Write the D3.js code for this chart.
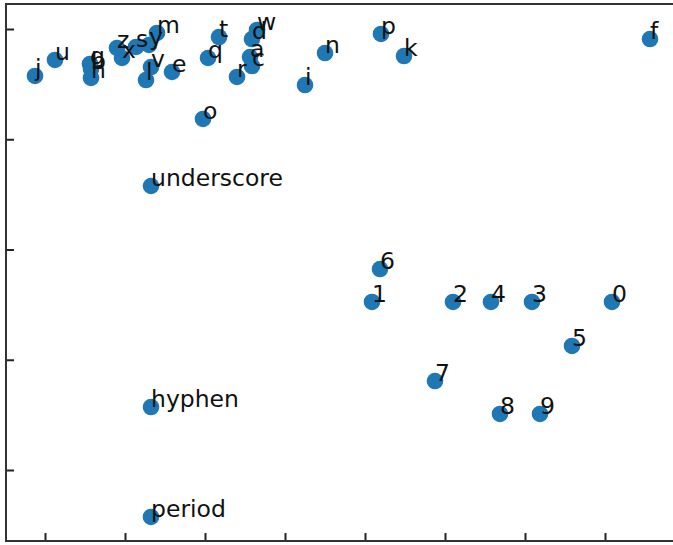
<!DOCTYPE html>
<html>
<head>
<meta charset="utf-8">
<script src="https://cdn.jsdelivr.net/npm/d3@7"></script>
<style>
  html, body { margin: 0; padding: 0; background: #fff; }
  svg { display: block; }
</style>
</head>
<body>
<svg id="chart" width="673" height="545"></svg>
<script>
// ---- data ----
const labels = ["a","b","c","d","e","f","g","h","i","j","k","l","m","n","o","p","q","r","s","t","u","v","w","x","y","z",
                "0","1","2","3","4","5","6","7","8","9","underscore","hyphen","period"];
const xValues = [2.5625,0.575,2.5875,2.5875,1.5875,7.5625,0.5625,0.575,3.25,-0.125,4.4875,1.2625,1.4,3.5,1.975,4.2,2.0375,2.4,1.1375,2.175,0.125,1.325,2.65,0.9625,1.3,0.9,
                 7.0875,4.0875,5.1,6.0875,5.575,6.5875,4.1875,4.875,5.6875,6.1875,1.325,1.325,1.325];
const yValues = [3.746,3.637,3.664,3.909,3.610,3.909,3.683,3.556,3.492,3.574,3.755,3.537,3.964,3.782,3.184,3.955,3.737,3.565,3.837,3.927,3.719,3.655,3.991,3.737,3.855,3.828,
                 1.524,1.524,1.524,1.524,1.524,1.125,1.823,0.807,0.508,0.508,2.576,0.571,-0.426];
const xTicks = [0,1,2,3,4,5,6,7];
const yTicks = [0,1,2,3,4];

// ---- layout ----
const frame = {left: 6, top: 4, right: 700, bottom: 541};
const svg = d3.select("#chart");

const x = d3.scaleLinear().domain([0, 7]).range([45, 605]);
const y = d3.scaleLinear().domain([0, 4]).range([470, 29]);

const points = labels.map((l, i) => ({label: l, x: xValues[i], y: yValues[i]}));

// axes with inward ticks, no labels
const gx = svg.append("g").attr("transform", `translate(0,${frame.bottom})`)
  .call(d3.axisBottom(x).tickValues(xTicks).tickSizeInner(-8).tickSizeOuter(0).tickFormat(""));
const gy = svg.append("g").attr("transform", `translate(${frame.left},0)`)
  .call(d3.axisLeft(y).tickValues(yTicks).tickSizeInner(-8).tickSizeOuter(0).tickFormat(""));
[gx, gy].forEach(g => {
  g.select(".domain").remove();
  g.selectAll(".tick line").attr("stroke", "#222").attr("stroke-width", 2);
});

// frame
svg.append("rect")
  .attr("x", frame.left).attr("y", frame.top)
  .attr("width", frame.right - frame.left).attr("height", frame.bottom - frame.top)
  .attr("fill", "none").attr("stroke", "#333").attr("stroke-width", 2);

// points
svg.append("g").selectAll("circle").data(points).join("circle")
  .attr("cx", d => x(d.x)).attr("cy", d => y(d.y)).attr("r", 8.3)
  .attr("fill", "#1f77b4");

// labels
svg.append("g").selectAll("text").data(points).join("text")
  .attr("x", d => x(d.x)).attr("y", d => y(d.y))
  .attr("font-family", "DejaVu Sans")
  .attr("font-size", 23.5)
  .attr("fill", "#111")
  .text(d => d.label);
</script>
</body>
</html>
